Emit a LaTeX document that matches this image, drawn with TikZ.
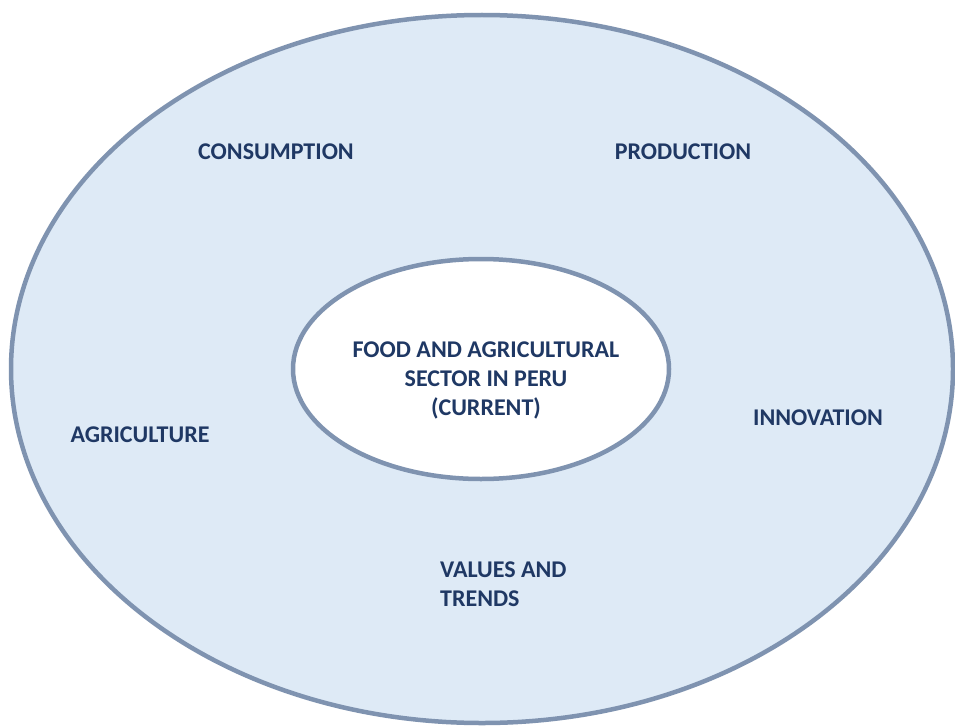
\documentclass[tikz,border=0pt]{standalone}
\usepackage{fontspec}
\setmainfont{Carlito}
\definecolor{ringfill}{HTML}{DEEAF6}
\definecolor{ringline}{HTML}{7F93B0}
\definecolor{txt}{HTML}{1F3864}
\begin{document}
\begin{tikzpicture}[x=1pt,y=-1pt,
  lbl/.style={font=\fontsize{24}{29}\selectfont\bfseries, text=txt, inner sep=0pt},
  ring/.style={draw=ringline, line width=4.5pt}]
\useasboundingbox (0,0) rectangle (955,725);
\fill[white] (0,0) rectangle (955,725);
\draw[ring, fill=ringfill] (482,369) ellipse [x radius=471, y radius=354];
\draw[ring, fill=white] (481,369) ellipse [x radius=188, y radius=110];
\node[lbl, align=center] (center) at (486,380) {FOOD AND AGRICULTURAL\\SECTOR IN PERU\\(CURRENT)};
\node[lbl] (consumption) at (276,152) {CONSUMPTION};
\node[lbl] (production) at (683,152) {PRODUCTION};
\node[lbl] (agriculture) at (140,435) {AGRICULTURE};
\node[lbl] (innovation) at (818,418) {INNOVATION};
\node[lbl, align=left, anchor=west] (values) at (440,584) {VALUES AND\\TRENDS};
\end{tikzpicture}
\end{document}
